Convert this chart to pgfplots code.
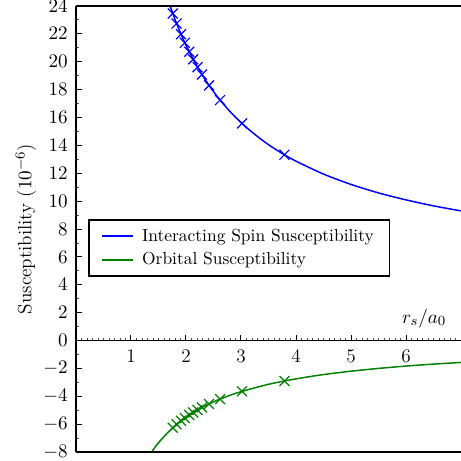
\documentclass[border=0pt]{standalone}
\usepackage{pgfplots}
\pgfplotsset{compat=1.18}
\definecolor{mplgreen}{RGB}{0,128,0}
\begin{document}
\begin{tikzpicture}
\begin{axis}[
  at={(0,0)}, anchor=south west,
  scale only axis, width=220bp, height=254.9bp,
  xmin=0, xmax=7, ymin=-8, ymax=24,
  clip=false,
  axis x line=none, axis y line*=left,
  axis line style={line width=1bp, black},
  xtick=\empty,
  ytick={-8,-6,...,24}, minor y tick num=1,
  tick align=inside,
  major tick length=3.6bp, minor tick length=1.8bp,
  major tick style={black, line width=0.55bp},
  minor tick style={black!70, line width=0.45bp},
  tick label style={font=\fontsize{11}{13}\selectfont},
  yticklabel style={xshift=-1.2bp},
  ylabel={Susceptibility ($10^{-6}$)},
  every axis y label/.style={at={(axis description cs:-0.13,0.5)}, rotate=90, anchor=center, font=\fontsize{11}{13}\selectfont},
  legend style={at={(axis description cs:0.032,0.5217)}, anchor=north west, draw=black, line width=1bp, inner xsep=7bp, inner ysep=3bp, row sep=1bp, column sep=2.6bp},
  legend image code/.code={\draw[#1] (0cm,0cm) -- (0.62cm,0cm);},
  legend image post style={line width=1.1bp},
  legend cell align=left,
]
\addplot[blue, line width=0.85bp, smooth] coordinates {
(1.711,24.00) (1.8,23.04) (1.9,22.07) (2.0,21.19) (2.2,19.68) (2.4,18.41) (2.6,17.35) (2.8,16.43) (3.0,15.64) (3.25,14.79) (3.5,14.05) (3.75,13.42) (4.0,12.87) (4.5,11.94) (5.0,11.20) (5.5,10.59) (6.0,10.09) (6.5,9.66) (7.0,9.30)};
\addlegendentry{Interacting Spin Susceptibility}
\addplot[mplgreen, line width=0.85bp, smooth] coordinates {
(1.375,-8.00) (1.5,-7.33) (1.75,-6.29) (2.0,-5.50) (2.25,-4.89) (2.5,-4.40) (2.75,-4.00) (3.0,-3.67) (3.5,-3.14) (4.0,-2.75) (4.5,-2.44) (5.0,-2.20) (5.5,-2.00) (6.0,-1.83) (6.5,-1.69) (7.0,-1.57)};
\addlegendentry{Orbital Susceptibility}
\addplot[blue, only marks, mark=x, mark size=4bp, mark options={line width=0.7bp}, forget plot] coordinates {
(1.76,23.46) (1.83,22.74) (1.91,21.97) (1.98,21.36) (2.06,20.71) (2.13,20.17) (2.21,19.61) (2.29,19.08) (2.42,18.30) (2.62,17.25) (3.02,15.57) (3.79,13.33)};
\addplot[mplgreen, only marks, mark=x, mark size=4bp, mark options={line width=0.7bp}, forget plot] coordinates {
(1.76,-6.25) (1.83,-6.01) (1.91,-5.76) (1.98,-5.56) (2.06,-5.34) (2.13,-5.16) (2.21,-4.98) (2.29,-4.80) (2.42,-4.55) (2.62,-4.20) (3.02,-3.64) (3.79,-2.90)};
\draw[line width=1bp, black] (rel axis cs:0,1) -- (rel axis cs:1,1);
\draw[line width=1bp, black] (rel axis cs:0,0) -- (rel axis cs:1,0);
\end{axis}
\begin{axis}[
  at={(0,63.725bp)}, anchor=south west,
  scale only axis, width=220bp, height=191.175bp,
  xmin=0, xmax=7, ymin=0, ymax=24,
  clip=false,
  axis x line*=bottom, axis y line=none,
  axis line style={line width=1bp, black},
  ytick=\empty,
  xtick={0,...,7}, xticklabels={,1,2,3,4,5,6,},
  minor x tick num=9,
  tick align=inside,
  major tick length=3.2bp, minor tick length=1.6bp,
  major tick style={black, line width=0.55bp},
  minor tick style={black!70, line width=0.45bp},
  tick label style={font=\fontsize{11}{13}\selectfont},
  xticklabel style={yshift=-1.5bp},
]
\node[font=\fontsize{11}{13}\selectfont] at (axis cs:6.33,1.6) {$r_s/a_0$};
\end{axis}
\pgfresetboundingbox
\path[use as bounding box] (-43.4bp,-4.57bp) rectangle (220bp,258.3bp);
\end{tikzpicture}
\end{document}
